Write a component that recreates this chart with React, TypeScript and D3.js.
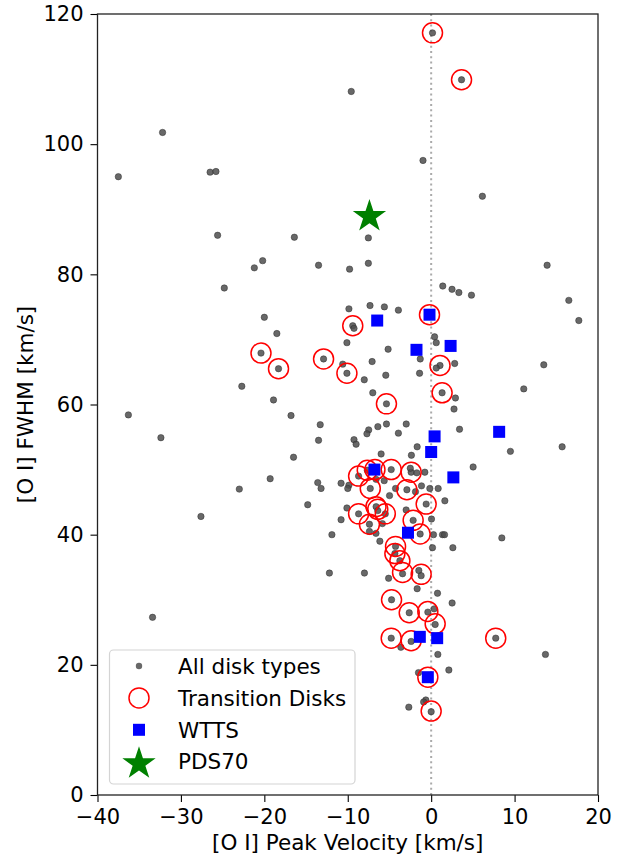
import * as d3 from 'd3';
import { useEffect, useRef } from 'react';

// [O I] peak velocity (km/s), FWHM (km/s)
const allDisks: [number, number][] = [
  [0.16, 117.1], [3.64, 109.9], [-9.58, 108.1], [-32.2, 101.8], [-37.5, 95.0], [-26.5, 95.7],
  [-25.8, 95.8], [-0.98, 97.5], [6.14, 92.0], [-25.6, 86.0], [-16.4, 85.7], [-7.53, 85.6],
  [-20.2, 82.1], [-21.2, 81.0], [-13.5, 81.4], [-9.78, 80.8], [-7.53, 81.7], [13.9, 81.4],
  [-24.8, 77.9], [1.39, 78.2], [2.5, 77.7], [3.32, 77.2], [4.83, 76.8], [16.5, 76.0],
  [17.7, 72.9], [-9.86, 74.7], [-7.33, 75.2], [-5.61, 75.0], [-3.93, 74.5], [-0.2, 73.8],
  [-20.0, 73.4], [-9.4, 72.1], [-9.25, 71.7], [-18.5, 70.9], [-10.1, 69.5], [0.41, 70.4],
  [0.61, 69.5], [-5.16, 68.5], [-20.4, 67.9], [-18.3, 65.5], [-12.9, 67.0], [-10.6, 66.2],
  [-10.1, 64.8], [-7.08, 66.6], [-1.31, 67.0], [1.06, 66.0], [0.61, 65.6], [2.82, 66.3],
  [-5.44, 64.5], [-1.39, 64.8], [-8.02, 63.8], [13.5, 66.1], [-22.7, 62.8], [11.1, 62.4],
  [1.31, 61.8], [2.91, 61.0], [2.74, 59.3], [-7.0, 61.8], [-5.36, 60.1], [-18.9, 60.7],
  [-36.3, 58.4], [-16.8, 58.3], [-13.3, 56.9], [-7.49, 56.1], [-7.7, 55.5], [-6.39, 56.6],
  [-5.36, 57.0], [-2.99, 57.0], [-3.93, 55.6], [3.4, 56.2], [-32.4, 54.9], [-13.5, 54.5],
  [-9.25, 54.6], [-9.0, 53.9], [-1.68, 53.5], [9.5, 52.8], [15.7, 53.5], [-6.0, 52.4],
  [-2.37, 52.2], [-16.5, 51.9], [5.03, 50.4], [-19.3, 48.6], [-23.0, 47.0], [-27.6, 42.8],
  [-14.8, 44.6],
  [-13.6, 48.0], [-13.2, 47.1], [-10.8, 47.9], [-9.86, 47.6], [-10.0, 47.1], [-8.7, 49.0],
  [-7.66, 49.9], [-6.74, 50.0], [-4.79, 50.0], [-2.4, 49.6], [-2.5, 50.2], [-1.72, 49.5],
  [-0.76, 49.6], [-5.63, 48.3], [-6.6, 48.5], [-7.3, 47.1], [-4.99, 46.0], [-4.27, 47.1],
  [-2.91, 46.9], [-1.16, 47.5], [-1.88, 46.6], [-0.16, 47.1], [0.84, 47.1], [1.64, 45.2],
  [-0.6, 44.7], [-3.0, 43.8], [-10.1, 44.1], [-10.8, 42.3], [-11.9, 40.0], [-8.7, 43.2],
  [-6.6, 44.3], [-6.4, 43.7], [-5.5, 43.2], [-7.4, 41.6], [-6.62, 40.2], [-5.85, 41.7],
  [-7.4, 40.5], [0.04, 42.4], [-2.16, 42.2], [-1.32, 40.1], [0.28, 40.0], [1.36, 40.0],
  [1.6, 40.0], [0.16, 38.0], [2.6, 38.0], [-6.15, 39.0], [8.47, 39.5],
  [-4.27, 38.2], [-4.35, 37.1], [-3.75, 36.0], [-12.2, 34.1], [-8.0, 34.1], [-5.1, 33.3],
  [-3.43, 34.0], [-1.48, 34.5], [-1.2, 33.7], [-1.68, 31.7], [0.76, 31.0], [2.51, 29.5],
  [-4.75, 30.0], [-2.63, 28.0], [-0.4, 28.1], [0.36, 28.6], [0.48, 26.2], [-4.79, 24.1],
  [-2.4, 23.6], [-3.63, 22.7], [7.74, 24.1], [0.8, 21.6], [2.12, 19.2], [-1.52, 18.8],
  [-0.4, 18.1], [-0.64, 14.6], [-0.9, 14.3], [-2.68, 13.5], [0.0, 12.8], [-33.4, 27.3],
  [13.7, 21.6],
];

const transitionDisks: [number, number][] = [
  [0.16, 117.1], [3.64, 109.9], [-0.2, 73.8], [-9.4, 72.1], [-20.4, 67.9], [-18.3, 65.5],
  [-12.9, 67.0], [-10.1, 64.8], [1.06, 66.0], [1.31, 61.8], [-5.36, 60.1],
  [-8.7, 49.0], [-7.66, 49.9], [-6.74, 50.0], [-4.79, 50.0], [-2.4, 49.6], [-7.3, 47.1],
  [-2.91, 46.9], [-0.6, 44.7], [-6.62, 44.3], [-6.4, 43.9], [-5.5, 43.2], [-8.7, 43.2],
  [-7.4, 41.6], [-2.16, 42.2], [-1.32, 40.1], [-4.27, 38.2], [-4.35, 37.1], [-3.75, 36.0],
  [-3.43, 34.2], [-1.2, 33.9], [-4.75, 30.0], [-2.63, 28.0], [-0.4, 28.2], [0.48, 26.3],
  [-4.79, 24.1], [-2.4, 23.7], [7.74, 24.1], [-0.4, 18.1], [0.0, 12.9],
];

const wtts: [number, number][] = [
  [-6.47, 72.9], [-0.2, 73.8], [-1.76, 68.4], [2.33, 69.0], [8.15, 55.8], [0.41, 55.1],
  [0.0, 52.7], [2.66, 48.8], [-6.8, 50.0], [-2.78, 40.3], [-1.36, 24.3], [0.72, 24.1],
  [-0.4, 18.1],
];

const pds70: [number, number][] = [[-7.4, 89.2]];

const xTicks = [-40, -30, -20, -10, 0, 10, 20];
const yTicks = [0, 20, 40, 60, 80, 100, 120];
const legendLabels = ['All disk types', 'Transition Disks', 'WTTS', 'PDS70'];

const WIDTH = 626;
const HEIGHT = 856;
const margin = { top: 14, right: 28, bottom: 61, left: 97.5 };
const FONT = '"DejaVu Sans", sans-serif';

export default function App() {
  const svgRef = useRef<SVGSVGElement>(null);

  useEffect(() => {
    if (!svgRef.current) { return; }
    const svg = d3.select(svgRef.current);
    svg.selectAll('*').remove();

    const x = d3.scaleLinear().domain([-40, 20]).range([margin.left, WIDTH - margin.right]);
    const y = d3.scaleLinear().domain([0, 120]).range([HEIGHT - margin.bottom, margin.top]);

    svg.append('rect').attr('width', WIDTH).attr('height', HEIGHT).attr('fill', '#fff');

    // vertical zero line
    svg.append('line')
      .attr('x1', x(0)).attr('x2', x(0))
      .attr('y1', y(0)).attr('y2', y(120))
      .attr('stroke', '#aaaaaa')
      .attr('stroke-width', 2)
      .attr('stroke-dasharray', '2,3.3');

    const star = d3.symbol().type(d3.symbolStar).size(344);

    // all disks
    svg.append('g').selectAll('circle').data(allDisks).join('circle')
      .attr('cx', d => x(d[0])).attr('cy', d => y(d[1]))
      .attr('r', 3.2)
      .attr('fill', '#4d4d4d')
      .attr('fill-opacity', 0.85)
      .attr('stroke', '#2a2a2a')
      .attr('stroke-opacity', 0.6)
      .attr('stroke-width', 0.8);

    // transition disks
    svg.append('g').selectAll('circle').data(transitionDisks).join('circle')
      .attr('cx', d => x(d[0])).attr('cy', d => y(d[1]))
      .attr('r', 10)
      .attr('fill', 'none')
      .attr('stroke', '#ff0000')
      .attr('stroke-width', 1.5);

    // WTTS
    svg.append('g').selectAll('rect').data(wtts).join('rect')
      .attr('x', d => x(d[0]) - 6).attr('y', d => y(d[1]) - 6)
      .attr('width', 12).attr('height', 12)
      .attr('fill', '#0000ff');

    // PDS70
    svg.append('g').selectAll('path').data(pds70).join('path')
      .attr('d', star)
      .attr('transform', d => `translate(${x(d[0])},${y(d[1]) + 2})`)
      .attr('fill', '#008000');

    // axes
    const styleAxis = (g: d3.Selection<SVGGElement, unknown, null, undefined>) => {
      g.select('.domain').remove();
      g.selectAll('line').attr('stroke', '#000').attr('stroke-width', 1.1);
      g.selectAll('text').attr('font-family', FONT).attr('font-size', 21).attr('fill', '#000');
    };

    svg.append('g')
      .attr('transform', `translate(0,${y(0)})`)
      .call(d3.axisBottom(x).tickValues(xTicks).tickSize(7).tickPadding(7).tickFormat(d3.format('')))
      .call(styleAxis);

    svg.append('g')
      .attr('transform', `translate(${x(-40)},0)`)
      .call(d3.axisLeft(y).tickValues(yTicks).tickSize(7).tickPadding(7).tickFormat(d3.format('')))
      .call(styleAxis);

    // frame
    svg.append('rect')
      .attr('x', x(-40)).attr('y', y(120))
      .attr('width', x(20) - x(-40)).attr('height', y(0) - y(120))
      .attr('fill', 'none')
      .attr('stroke', '#222')
      .attr('stroke-width', 1.3);

    // axis titles
    svg.append('text')
      .attr('x', (x(-40) + x(20)) / 2)
      .attr('y', 850)
      .attr('text-anchor', 'middle')
      .attr('font-family', FONT)
      .attr('font-size', 21.5)
      .text('[O I] Peak Velocity [km/s]');

    svg.append('text')
      .attr('transform', `translate(33,${(y(0) + y(120)) / 2}) rotate(-90)`)
      .attr('text-anchor', 'middle')
      .attr('font-family', FONT)
      .attr('font-size', 21.5)
      .text('[O I] FWHM [km/s]');

    // legend
    const lg = svg.append('g');
    lg.append('rect')
      .attr('x', 109.5).attr('y', 650)
      .attr('width', 245.5).attr('height', 134)
      .attr('rx', 4)
      .attr('fill', '#fff')
      .attr('fill-opacity', 0.8)
      .attr('stroke', '#d4d4d4')
      .attr('stroke-width', 1.2);

    const rowY = (i: number) => 666 + i * 31.9;
    const mx = 139;
    lg.append('circle').attr('cx', mx).attr('cy', rowY(0)).attr('r', 3.2)
      .attr('fill', '#4d4d4d').attr('fill-opacity', 0.85);
    lg.append('circle').attr('cx', mx).attr('cy', rowY(1)).attr('r', 10)
      .attr('fill', 'none').attr('stroke', '#ff0000').attr('stroke-width', 1.5);
    lg.append('rect').attr('x', mx - 6).attr('y', rowY(2) - 6).attr('width', 12).attr('height', 12)
      .attr('fill', '#0000ff');
    lg.append('path').attr('d', star).attr('transform', `translate(${mx},${rowY(3) + 2})`)
      .attr('fill', '#008000');

    legendLabels.forEach((label, i) => {
      lg.append('text')
        .attr('x', 178)
        .attr('y', rowY(i))
        .attr('dy', '0.36em')
        .attr('font-family', FONT)
        .attr('font-size', 21.5)
        .attr('fill', '#000')
        .text(label);
    });
  }, []);

  return (
    <svg
      ref={svgRef}
      width={WIDTH}
      height={HEIGHT}
      style={{ position: 'absolute', left: 0, top: 0, display: 'block' }}
    />
  );
}
